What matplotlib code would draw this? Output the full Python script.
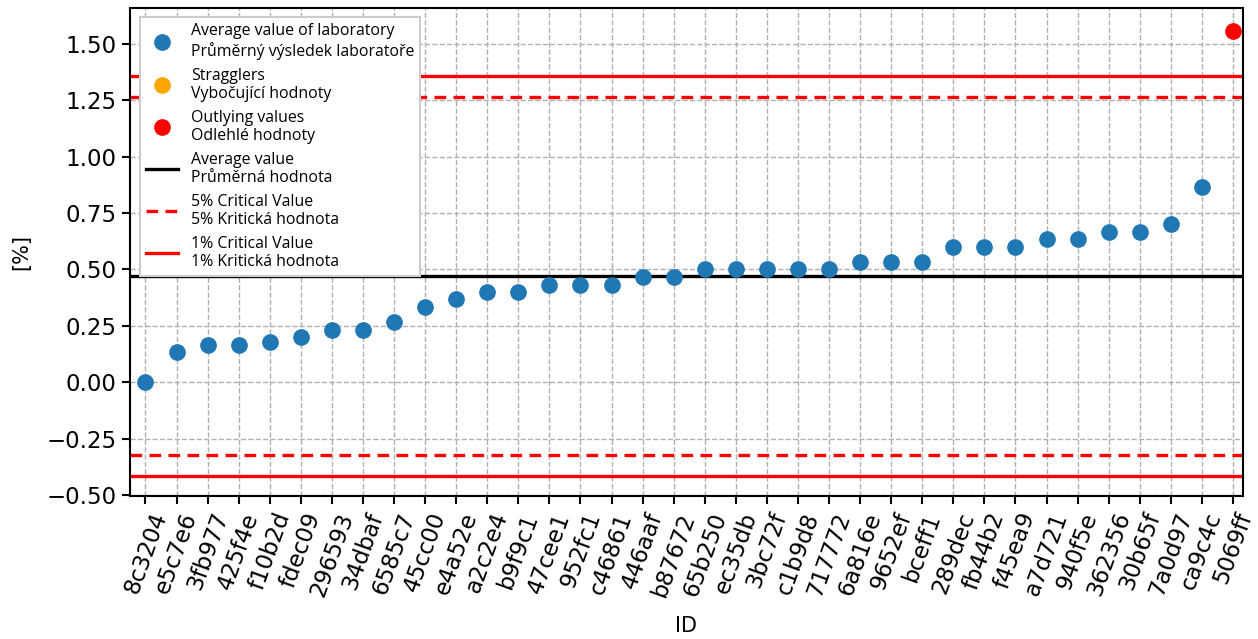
import matplotlib
matplotlib.use("Agg")
import matplotlib.pyplot as plt
from matplotlib.lines import Line2D

ids = ["8c3204", "e5c7e6", "3fb977", "425f4e", "f10b2d", "fdec09", "296593", "34dbaf",
       "6585c7", "45cc00", "e4a52e", "a2c2e4", "b9f9c1", "47cee1", "952fc1", "c46861",
       "446aaf", "b87672", "65b250", "ec35db", "3bc72f", "c1b9d8", "717772", "6a816e",
       "9652ef", "bceff1", "289dec", "fb44b2", "f45ea9", "a7d721", "940f5e", "362356",
       "30b65f", "7a0d97", "ca9c4c", "5069ff"]
values = [0.0, 0.133, 0.167, 0.167, 0.178, 0.2, 0.233, 0.233,
          0.267, 0.333, 0.367, 0.4, 0.4, 0.433, 0.433, 0.433,
          0.467, 0.467, 0.5, 0.5, 0.5, 0.5, 0.5, 0.533,
          0.533, 0.533, 0.6, 0.6, 0.6, 0.633, 0.633, 0.667,
          0.667, 0.7, 0.867, 1.556]
status = ["ok"] * 35 + ["outlier"]

average = 0.470
crit5 = [-0.324, 1.265]
crit1 = [-0.417, 1.357]

fig = plt.figure(figsize=(12.58, 6.39), dpi=100)
ax = fig.add_axes([0.1033, 0.2238, 0.8847, 0.7637])

x = list(range(len(ids)))
ok_x = [i for i in x if status[i] == "ok"]
ok_y = [values[i] for i in ok_x]
st_x = [i for i in x if status[i] == "straggler"]
st_y = [values[i] for i in st_x]
out_x = [i for i in x if status[i] == "outlier"]
out_y = [values[i] for i in out_x]

ax.grid(True, linestyle="--", color="#b0b0b0", linewidth=1.0, zorder=0)
ax.set_axisbelow(True)

ax.axhline(average, color="black", linewidth=2.4, zorder=2)
for v in crit5:
    ax.axhline(v, color="red", linestyle=(0, (3.5, 2.2)), linewidth=2.4, zorder=2)
for v in crit1:
    ax.axhline(v, color="red", linewidth=2.4, zorder=2)

ax.plot(ok_x, ok_y, "o", color="#1f77b4", markersize=11, zorder=3)
ax.plot(st_x, st_y, "o", color="orange", markersize=11, zorder=3)
ax.plot(out_x, out_y, "o", color="red", markersize=11, zorder=3)

ax.set_xlim(-0.5, 35.32)
ax.set_ylim(-0.505, 1.66)
ax.set_xticks(x)
ax.set_xticklabels(ids, rotation=70, fontsize=16.5)
ax.set_yticks([-0.5, -0.25, 0, 0.25, 0.5, 0.75, 1.0, 1.25, 1.5])
ax.set_yticklabels(["\u22120.50", "\u22120.25", "0.00", "0.25", "0.50", "0.75", "1.00", "1.25", "1.50"])
ax.tick_params(axis="y", labelsize=16.5, length=6, width=1.5)
ax.tick_params(axis="x", length=6, width=1.5)
for s in ax.spines.values():
    s.set_linewidth(1.5)
    s.set_color("black")
ax.set_xlabel("ID", fontsize=15, labelpad=12)
ax.set_ylabel("[%]", fontsize=15, labelpad=11)

handles = [
    Line2D([], [], marker="o", linestyle="", color="#1f77b4", markersize=11),
    Line2D([], [], marker="o", linestyle="", color="orange", markersize=11),
    Line2D([], [], marker="o", linestyle="", color="red", markersize=11),
    Line2D([], [], color="black", linewidth=2.4),
    Line2D([], [], color="red", linewidth=2.4, linestyle=(0, (3.5, 2.2))),
    Line2D([], [], color="red", linewidth=2.4),
]
labels = [
    "Average value of laboratory\nPrůměrný výsledek laboratoře",
    "Stragglers\nVybočující hodnoty",
    "Outlying values\nOdlehlé hodnoty",
    "Average value\nPrůměrná hodnota",
    "5% Critical Value\n5% Kritická hodnota",
    "1% Critical Value\n1% Kritická hodnota",
]
leg = ax.legend(handles, labels, loc="upper left", bbox_to_anchor=(0.002, 0.998),
                prop={"family": "Open Sans", "size": 11.4}, framealpha=1.0,
                edgecolor="#cccccc", fancybox=False, labelspacing=0.48,
                handlelength=2.0, borderpad=0.4)
leg.get_frame().set_linewidth(1.5)
leg.set_zorder(5)

fig.savefig("out.png", dpi=100)
